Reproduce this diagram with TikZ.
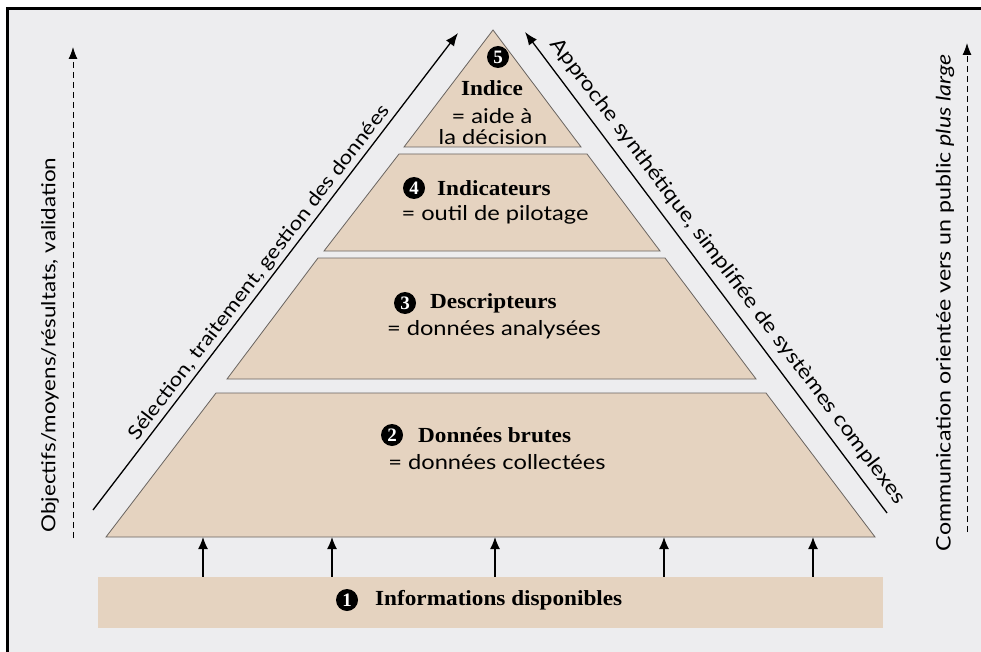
\documentclass[tikz,border=0pt]{standalone}
\usepackage{fontspec}
\setmainfont{Liberation Serif}[FakeStretch=1.08]
\newfontfamily\sansf{Lato}[FakeStretch=1.16]
\newfontfamily\numf{Liberation Serif}
\usetikzlibrary{arrows.meta}
\definecolor{bg}{RGB}{237,237,239}
\definecolor{tier}{RGB}{229,211,192}
\definecolor{edge}{RGB}{105,100,96}
\begin{document}
\begin{tikzpicture}[x=1pt,y=-1pt,
  tierbox/.style={fill=tier,draw=edge,line width=0.8pt},
  num/.style={circle,fill=black,inner sep=0pt,minimum size=22pt,text=white,font=\numf\bfseries\fontsize{19}{19}\selectfont},
  title/.style={font=\bfseries\fontsize{21.5}{21.5}\selectfont,inner sep=0pt,anchor=west},
  desc/.style={font=\sansf\fontsize{20.4}{20.4}\selectfont,inner sep=0pt},
  lab/.style={font=\sansf\fontsize{19.3}{19.3}\selectfont,inner sep=3pt},
  upar/.style={-{Latex[length=12pt,width=10pt]},line width=1.3pt},
  diag/.style={-{Latex[length=13pt,width=10pt]},line width=1.3pt},
  dasharr/.style={dash pattern=on 6pt off 4pt,line width=1pt,-{Latex[length=12pt,width=9pt]}}
]
\useasboundingbox (0,0) rectangle (981,652);
\fill[white] (0,0) rectangle (981,652);
\fill[bg] (7,8) rectangle (981,652);
\draw[line width=3pt] (7.5,652) -- (7.5,8.5) -- (981,8.5);

% pyramid tiers
\coordinate (apex) at (493,30);
\draw[tierbox] (apex) -- (581,147) -- (404,147) -- cycle;
\draw[tierbox] (399,154) -- (587,154) -- (660,251) -- (324,251) -- cycle;
\draw[tierbox] (318,258) -- (665,258) -- (756,379) -- (227,379) -- cycle;
\draw[tierbox] (216,393) -- (766,393) -- (875,537) -- (106,537) -- cycle;
\coordinate (t2b) at (490,537);

% base
\node[fill=tier,minimum width=785pt,minimum height=51pt,inner sep=0pt] (base) at (490.5,602.5) {};

% upward arrows
\foreach \x in {203,332,495,664,813}
  \draw[upar] (base.north -| \x,0) -- (t2b -| \x,0);

% tier texts
\node[num] (n5) at (498,57) {5};
\node[font=\bfseries\fontsize{21.5}{21.5}\selectfont,inner sep=0pt] (t5) at (492,88) {Indice};
\node[desc] (d5a) at (492,116) {= aide à};
\node[desc] (d5b) at (493,137) {la décision};

\node[num] (n4) at (414,188) {4};
\node[title] (t4) at (437,188) {Indicateurs};
\node[desc] (d4) at (495,215) {= outil de pilotage};

\node[num] (n3) at (405,303) {3};
\node[title] (t3) at (430,303) {Descripteurs};
\node[desc] (d3) at (494,330) {= données analysées};

\node[num] (n2) at (392,435) {2};
\node[title] (t2) at (418,435) {Données brutes};
\node[desc] (d2) at (497,462) {= données collectées};

\node[num] (n1) at (347,600) {1};
\node[title] (t1) at (375,600) {Informations disponibles};

% diagonal arrows
\coordinate (l1) at (93,510);
\coordinate (l2) at (458,33);
\draw[diag] (l1) -- (l2);
\path (l1) -- (l2) node[pos=0.482,lab,rotate=52.58,anchor=south] (sel) {Sélection, traitement, gestion des données};

\coordinate (r1) at (887,513);
\coordinate (r2) at (525,32);
\draw[diag] (r1) -- (r2);
\path (r2) -- (r1) node[pos=0.52,lab,inner ysep=9pt,rotate=-53.03,anchor=south,font=\sansf\fontsize{20}{20}\selectfont] (app) {Approche synthétique, simplifiée de systèmes complexes};

% dashed vertical arrows
\coordinate (v1) at (73,538);
\coordinate (v2) at (73,47);
\draw[dasharr] (v1) -- (v2);
\node[lab,rotate=90] (obj) at (50,345) {Objectifs/moyens/résultats, validation};

\coordinate (w1) at (967,532);
\coordinate (w2) at (967,43);
\draw[dasharr] (w1) -- (w2);
\node[lab,rotate=90,font=\sansf\fontsize{20}{20}\selectfont] (com) at (945,303) {Communication orientée vers un public \textit{plus large}};
\end{tikzpicture}
\end{document}
